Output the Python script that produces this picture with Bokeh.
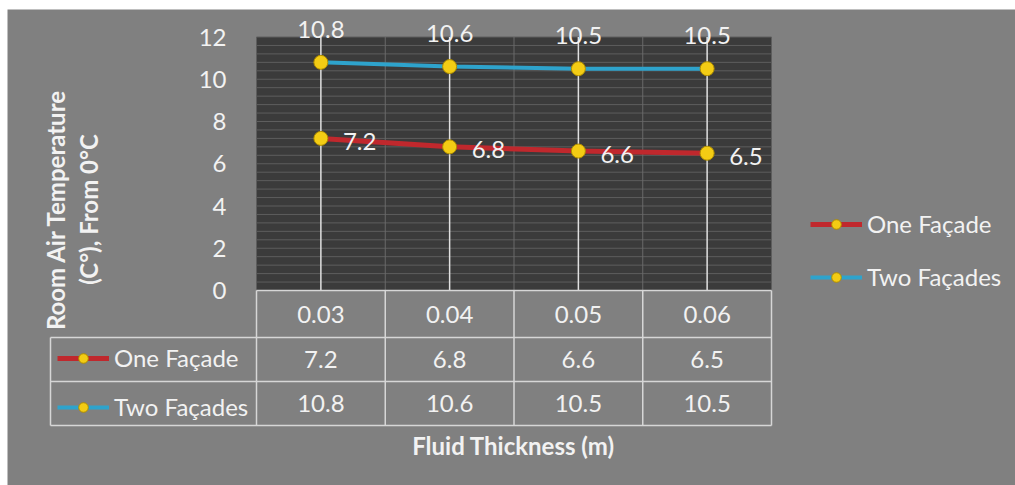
import math
import numpy as np
from bokeh.plotting import figure
from bokeh.models import (Range1d, LinearAxis, FixedTicker, Legend, LegendItem,
                          Label, ColumnDataSource)
from bokeh.core.properties import value
from bokeh.embed import file_html
from bokeh.resources import INLINE

# ---------------- data ----------------
categories = ["0.03", "0.04", "0.05", "0.06"]
one_facade = [7.2, 6.8, 6.6, 6.5]
two_facades = [10.8, 10.6, 10.5, 10.5]
series_names = ["One Façade", "Two Façades"]
y_ticks = [0, 2, 4, 6, 8, 10, 12]
x_title = "Fluid Thickness (m)"
y_title_lines = ["Room Air Temperature", "(C°), From 0°C"]

# ---------------- style ----------------
BG = "#808080"
PLOT_BG = "#3b3b3b"
TXT = "#f2f2f2"
RED = "#c0282d"
BLUE = "#2ea3cc"
YEL = "#f3cc14"
YEL_EDGE = "#b08e00"
GRID = "#5e5e5e"
TABLE = "#d6d6d6"
FONT = "Lato"
FS = "24px"

W, H = 1015, 485
OX, OY = 7, 9                # white page strip left / top
FW, FH = W - OX, H - OY      # frame size
XPU = 128.75                 # px per category
YPU = 21.125                 # px per y unit
x0px = 256 - OX              # x=0 in frame px
y0px = 290 - OY              # y=0 in frame px (from top)
x_start = -x0px / XPU
x_end = x_start + FW / XPU
y_end = (y0px) / YPU
y_start = -(FH - y0px) / YPU
row_b = [0, -2.225, -4.308, -6.391]   # table row boundaries
left_col = -1.6

p = figure(width=W, height=H, x_range=Range1d(x_start, x_end),
           y_range=Range1d(y_start, y_end), x_axis_type=None, y_axis_type=None,
           output_backend="svg", toolbar_location=None,
           min_border_left=OX, min_border_top=OY, min_border_right=0, min_border_bottom=0)
p.background_fill_color = BG
p.border_fill_color = "white"
p.outline_line_color = None

n = len(categories)
xs = [i + 0.5 for i in range(n)]

# dark plot area
p.quad(left=0, right=n, bottom=0, top=max(y_ticks), fill_color=PLOT_BG, line_color=None)
# minor horizontal grid
gy = np.arange(0.4, 12.01, 0.4)
p.segment(x0=0, x1=n, y0=gy, y1=gy, line_color=GRID, line_width=1)
# band boundaries
bx = list(range(1, n))
p.segment(x0=bx, x1=bx, y0=0, y1=12, line_color="#6a6a6a", line_width=1)
# vertical drop lines at categories
p.segment(x0=xs, x1=xs, y0=0, y1=12, line_color="#e0e0e0", line_width=1.5)

# series
src1 = ColumnDataSource(dict(x=xs, y=one_facade, t=[f"{v:g}" for v in one_facade]))
src2 = ColumnDataSource(dict(x=xs, y=two_facades, t=[f"{v:g}" for v in two_facades]))
l1 = p.line("x", "y", source=src1, line_color=RED, line_width=5)
l2 = p.line("x", "y", source=src2, line_color=BLUE, line_width=4)
m1 = p.scatter("x", "y", source=src1, marker="circle", size=14, fill_color=YEL,
               line_color=YEL_EDGE, line_width=1)
m2 = p.scatter("x", "y", source=src2, marker="circle", size=14, fill_color=YEL,
               line_color=YEL_EDGE, line_width=1)

# data labels
p.text("x", "y", text="t", source=src2, y_offset=-33, text_align="center",
       text_baseline="middle", text_color=TXT, text_font=value(FONT), text_font_size=FS)
p.text("x", "y", text="t", source=src1, x_offset=22, y_offset=3, text_align="left",
       text_baseline="middle", text_color=TXT, text_font=value(FONT), text_font_size=FS)

# y axis placed at x = 0
yax = LinearAxis(fixed_location=0, ticker=FixedTicker(ticks=y_ticks))
yax.axis_line_color = None
yax.major_tick_line_color = None
yax.minor_tick_line_color = None
yax.major_label_standoff = 24
yax.major_label_text_color = TXT
yax.major_label_text_font = FONT
yax.major_label_text_font_size = FS
p.add_layout(yax, "left")

# data table
hl_x0 = [0, left_col, left_col, left_col]
p.segment(x0=hl_x0, x1=n, y0=row_b, y1=row_b, line_color=TABLE, line_width=1.5)
vx = list(range(0, n + 1))
p.segment(x0=vx, x1=vx, y0=0, y1=row_b[-1], line_color=TABLE, line_width=1.5)
p.segment(x0=left_col, x1=left_col, y0=row_b[1], y1=row_b[-1], line_color=TABLE, line_width=1.5)

row_c = [(row_b[i] + row_b[i + 1]) / 2 for i in range(3)]
p.text(x=xs, y=[row_c[0]] * n, text=categories, text_align="center", text_baseline="middle",
       text_color=TXT, text_font=value(FONT), text_font_size=FS)
p.text(x=xs, y=[row_c[1]] * n, text=[f"{v:g}" for v in one_facade], text_align="center",
       text_baseline="middle", text_color=TXT, text_font=value(FONT), text_font_size=FS)
p.text(x=xs, y=[row_c[2]] * n, text=[f"{v:g}" for v in two_facades], text_align="center",
       text_baseline="middle", text_color=TXT, text_font=value(FONT), text_font_size=FS)


def make_legend(loc, spacing):
    lg = Legend(items=[LegendItem(label=series_names[0], renderers=[l1, m1]),
                       LegendItem(label=series_names[1], renderers=[l2, m2])],
                location=loc, orientation="vertical")
    lg.background_fill_alpha = 0
    lg.border_line_color = None
    lg.padding = 0
    lg.margin = 0
    lg.spacing = spacing
    lg.glyph_width = 52
    lg.glyph_height = 24
    lg.label_height = 24
    lg.label_standoff = 5
    lg.label_text_color = TXT
    lg.label_text_font = FONT
    lg.label_text_font_size = FS
    return lg


# legend positions in frame px: (left, bottom-from-frame-bottom)
p.add_layout(make_legend((810 - OX, H - 291), 24))
p.add_layout(make_legend((57 - OX, H - 421), 20))

# axis titles
p.add_layout(Label(x=513 - OX, y=H - 445, x_units="screen", y_units="screen", text=x_title,
                   text_align="center", text_baseline="middle", text_color=TXT,
                   text_font=FONT, text_font_size=FS, text_font_style="bold"))
for xpx, t in zip([55, 88], y_title_lines):
    p.add_layout(Label(x=xpx - OX, y=H - 209, x_units="screen", y_units="screen", text=t,
                       angle=math.pi / 2, text_align="center", text_baseline="middle",
                       text_color=TXT, text_font=FONT, text_font_size=FS,
                       text_font_style="bold"))

open("out.html", "w").write(file_html(p, INLINE))
